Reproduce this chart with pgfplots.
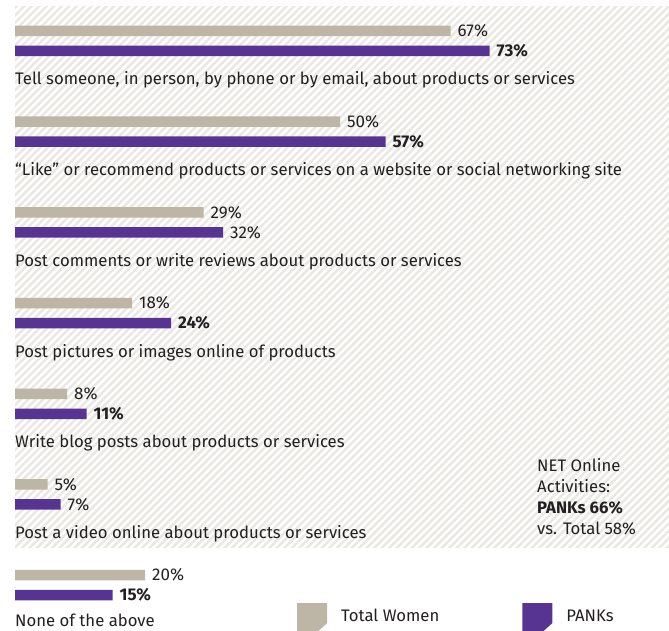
\documentclass[border=0pt]{standalone}
\usepackage{pgfplots}
\pgfplotsset{compat=1.18}
\usepackage{fontspec}
\setmainfont{Fira Sans}
\usetikzlibrary{patterns.meta}
\definecolor{barGray}{RGB}{189,181,165}
\definecolor{barPurple}{RGB}{87,52,146}
\definecolor{hatch}{RGB}{234,232,227}
\definecolor{ink}{RGB}{35,31,32}
\newcommand\lbl{\fontsize{16.7}{20}\selectfont}
\newcommand\val{\fontsize{17}{20}\selectfont}

\begin{document}
\begin{tikzpicture}
\path[use as bounding box] (0pt,0pt) rectangle (669pt,630pt);
% striped panel behind the first six rows
\fill[pattern={Lines[angle=45,distance=5.3pt,line width=2.6pt]},pattern color=hatch]
  (15pt,83pt) rectangle (669pt,623pt);
\begin{axis}[at={(0pt,0pt)},anchor=south west,scale only axis,
  width=669pt,height=630pt,hide axis,clip=false,
  xmin=-2.3077,xmax=100.615,ymin=-6.494,ymax=0.452,
  xbar,bar width=10.5pt,
  point meta=explicit symbolic,
  nodes near coords,
  nodes near coords style={font=\val,text=ink,anchor=west,inner sep=0pt,xshift=7pt},
  legend style={draw=none,fill=none,font=\lbl,text=ink,
    at={(rel axis cs:0.4439,0.019)},anchor=west,
    legend columns=2,inner sep=0pt},
  legend cell align=left,
  legend image code/.code={\fill[#1] (0pt,13pt) -- (30pt,13pt) -- (30pt,-7pt)
     -- (19pt,-17pt) -- (0pt,-17pt) -- cycle;},
]
\addplot[fill=barGray,draw=none,bar shift=10pt] coordinates {
  (67,0) [67\%]
  (50,-1) [50\%]
  (29,-2) [29\%]
  (18,-3) [18\%]
  (8,-4) [8\%]
  (5,-5) [5\%]
  (20,-6) [20\%]
};
\addlegendentry{\rule{12pt}{0pt}Total Women\rule{81pt}{0pt}}
\addplot[fill=barPurple,draw=none,bar shift=-10pt] coordinates {
  (73,0) [\textbf{73\%}]
  (57,-1) [\textbf{57\%}]
  (32,-2) [32\%]
  (24,-3) [\textbf{24\%}]
  (11,-4) [\textbf{11\%}]
  (7,-5) [7\%]
  (15,-6) [\textbf{15\%}]
};
\addlegendentry{\rule{12pt}{0pt}PANKs}
\begin{scope}[every node/.style={anchor=base west,inner sep=0pt,font=\lbl,text=ink,yshift=-44pt}]
\node at (axis cs:0,0) {Tell someone, in person, by phone or by email, about products or services};
\node at (axis cs:0,-1) {“Like” or recommend products or services on a website or social networking site};
\node at (axis cs:0,-2) {Post comments or write reviews about products or services};
\node at (axis cs:0,-3) {Post pictures or images online of products};
\node at (axis cs:0,-4) {Write blog posts about products or services};
\node at (axis cs:0,-5) {Post a video online about products or services};
\node[yshift=3pt] at (axis cs:0,-6) {None of the above};
\end{scope}
\end{axis}
\begin{scope}[every node/.style={anchor=base west,inner sep=0pt,font=\lbl,text=ink}]
\node at (537pt,159pt) {NET Online};
\node at (537pt,137.7pt) {Activities:};
\node at (537pt,116.4pt) {\textbf{PANKs 66\%}};
\node at (537pt,95.1pt) {vs. Total 58\%};
\end{scope}
\end{tikzpicture}
\end{document}
